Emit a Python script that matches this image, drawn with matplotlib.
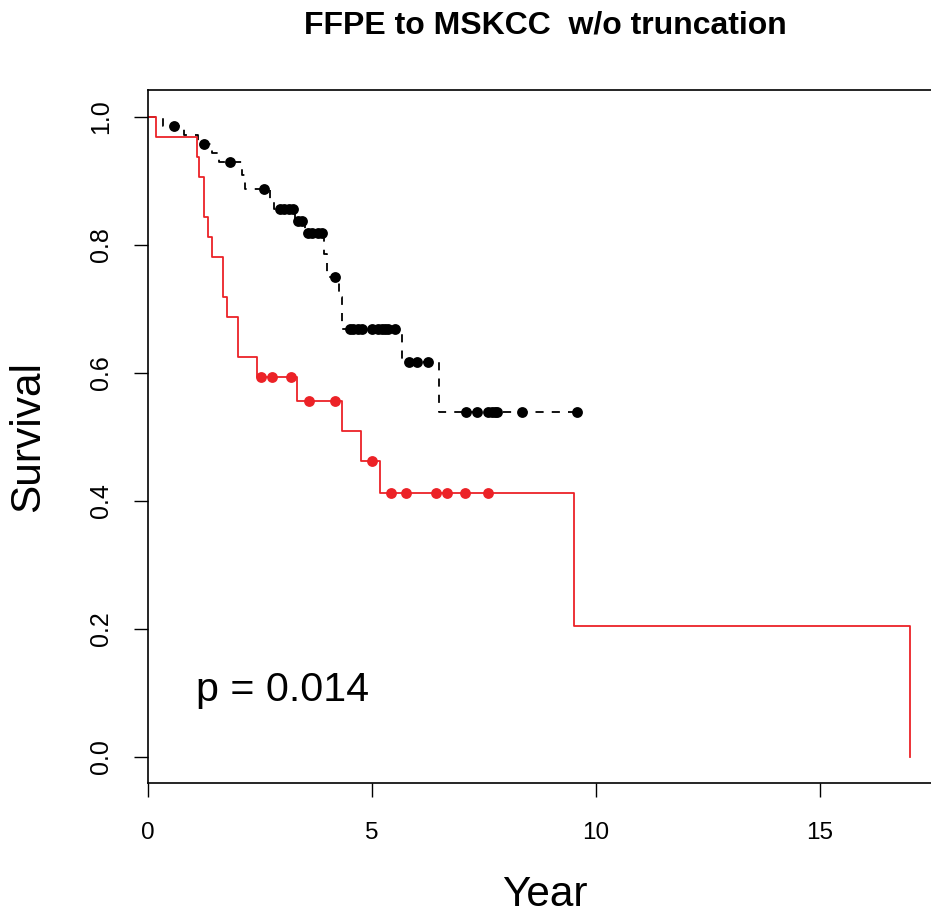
import numpy as np
import matplotlib
matplotlib.use("Agg")
import matplotlib.pyplot as plt

plt.rcParams['font.family'] = ['Liberation Sans', 'DejaVu Sans']

# group 1 (black, dashed): step times and survival levels
bk_t = [0, 0.33, 0.80, 1.12, 1.43, 1.58, 2.10, 2.17, 2.72, 2.82, 3.28, 3.50,
        3.92, 4.00, 4.27, 4.33, 5.67, 6.50, 9.58]
bk_s = [1.0, 0.986, 0.972, 0.958, 0.944, 0.930, 0.909, 0.887, 0.871, 0.856,
        0.837, 0.819, 0.785, 0.750, 0.719, 0.668, 0.617, 0.539, 0.539]
bk_cens = [0.58, 1.25, 1.83, 2.59, 2.95, 3.04, 3.15, 3.24, 3.35, 3.44, 3.57,
           3.66, 3.79, 3.88, 4.17, 4.51, 4.58, 4.69, 4.78, 5.00, 5.13, 5.22,
           5.29, 5.36, 5.51, 5.83, 6.00, 6.25, 7.10, 7.34, 7.59, 7.68, 7.75,
           7.79, 8.35, 9.58]

# group 2 (red, solid)
rd_t = [0, 0.18, 1.09, 1.14, 1.25, 1.33, 1.43, 1.68, 1.76, 2.00, 2.43, 3.33,
        4.33, 4.75, 5.18, 9.51, 17.0]
rd_s = [1.0, 0.969, 0.9375, 0.906, 0.844, 0.8125, 0.781, 0.719, 0.6875, 0.625,
        0.594, 0.556, 0.509, 0.4625, 0.4125, 0.205, 0.0]
rd_cens = [2.52, 2.77, 3.19, 3.60, 4.17, 5.00, 5.42, 5.76, 6.43, 6.67, 7.08, 7.59]

x_ticks = [0, 5, 10, 15]
y_ticks = [0.0, 0.2, 0.4, 0.6, 0.8, 1.0]


def level_at(t, s, c):
    idx = np.searchsorted(t, c, side='right') - 1
    return np.array(s)[idx]


red = '#EC2227'

fig = plt.figure(figsize=(9.31, 9.15), dpi=100)
ax = fig.add_axes([148 / 931, 1 - 783 / 915, (942 - 148) / 931, (783 - 90) / 915])

ax.step(bk_t, bk_s, where='post', color='black', lw=1.3, dashes=(4.5, 4.5))
ax.plot(bk_cens, level_at(bk_t, bk_s, bk_cens), 'o', color='black', ms=7.8, mew=0)

ax.step(rd_t, rd_s, where='post', color=red, lw=1.3)
ax.plot(rd_cens, level_at(rd_t, rd_s, rd_cens), 'o', color=red, ms=7.8, mew=0)

ax.set_xlim(0, 17.72)
ax.set_ylim(-0.041, 1.042)
ax.set_xticks(x_ticks)
ax.set_xticklabels([str(v) for v in x_ticks], fontsize=17.5)
ax.set_yticks(y_ticks)
ax.set_yticklabels(['%.1f' % v for v in y_ticks], fontsize=18, rotation=90, va='center')
ax.tick_params(axis='both', length=10, width=1, direction='out')
ax.tick_params(axis='x', pad=18)
ax.tick_params(axis='y', pad=15)
for sp in ax.spines.values():
    sp.set_linewidth(1.2)

ax.text(1.07, 0.105, 'p = 0.014', fontsize=29.7, va='center', ha='left')

fig.text(545 / 931, 1 - 25 / 915, 'FFPE to MSKCC  w/o truncation',
         fontsize=23, fontweight='bold', ha='center', va='center')
fig.text(545 / 931, 1 - 895 / 915, 'Year', fontsize=30.5, ha='center', va='center')
fig.text(28 / 931, 1 - 437 / 915, 'Survival', fontsize=30.5, ha='center',
         va='center', rotation=90)

fig.savefig('out.png', dpi=100)
